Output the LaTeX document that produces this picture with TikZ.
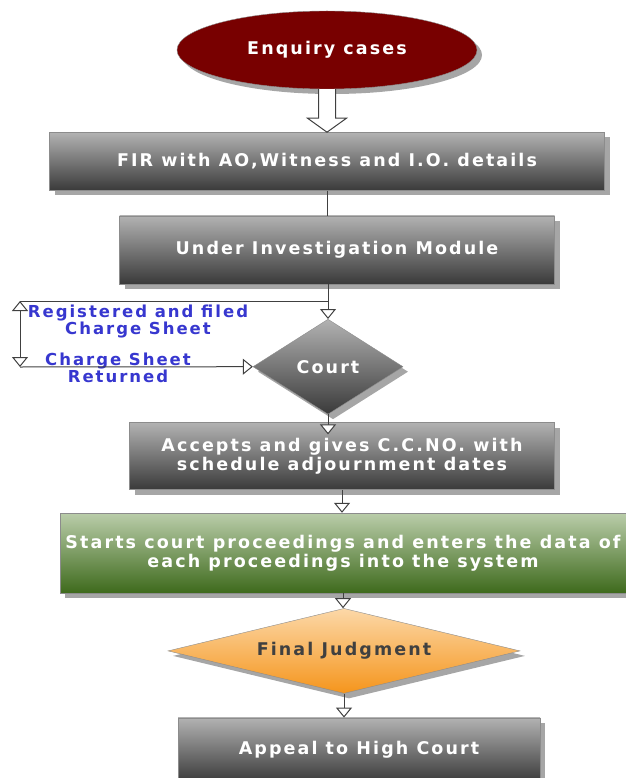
\documentclass[tikz,border=0pt]{standalone}
\usepackage{fontspec}
\setmainfont{DejaVu Sans}[LetterSpace=12]
\usetikzlibrary{arrows.meta,shapes.geometric,positioning,shadows}

\definecolor{boxtop}{HTML}{B2B2B2}
\definecolor{boxbottom}{HTML}{3A3A3A}
\definecolor{enqred}{HTML}{780000}
\definecolor{greentop}{HTML}{BACDAA}
\definecolor{greenbottom}{HTML}{3E6A1C}
\definecolor{orangetop}{HTML}{FCD8A8}
\definecolor{orangebottom}{HTML}{F5951C}
\definecolor{labelblue}{HTML}{3737CF}
\definecolor{linegray}{HTML}{404040}

\tikzset{
  boxshadow/.style={drop shadow={shadow xshift=5pt,shadow yshift=-5pt,fill=gray!70,opacity=1}},
  boxfont/.style={font=\bfseries\fontsize{17.5}{19}\selectfont},
  module/.style={rectangle,draw=gray!90,thin,top color=boxtop,bottom color=boxbottom,
    text=white,boxfont,align=center,inner sep=0pt,boxshadow},
  greenmodule/.style={module,top color=greentop,bottom color=greenbottom},
  decision/.style={diamond,draw=gray!90,thin,top color=boxtop,bottom color=boxbottom,
    text=white,boxfont,inner sep=0pt,boxshadow},
  judgment/.style={decision,top color=orangetop,bottom color=orangebottom,text=linegray,aspect=4},
  start/.style={ellipse,draw=gray!90,thin,fill=enqred,text=white,boxfont,boxshadow},
  flowlabel/.style={text=labelblue,font=\bfseries\fontsize{16.5}{17}\selectfont,align=center},
  link/.style={draw=linegray,line width=1pt},
  harrow/.style={link,-{Triangle[open,fill=white,length=10pt,width=16pt]}},
  dharrow/.style={link,{Triangle[open,fill=white,length=10pt,width=16pt]}-{Triangle[open,fill=white,length=10pt,width=16pt]}}
}

\begin{document}
\begin{tikzpicture}[x=1pt,y=-1pt]
  \useasboundingbox (0,0) rectangle (625,778);

  \node[start, minimum width=300pt, minimum height=78pt] (enq) at (327,50) {Enquiry cases};
  \node[module, minimum width=555pt, minimum height=58pt] (fir)      [below=43pt of enq] {FIR with AO,Witness and I.O. details};
  \node[module, minimum width=435pt, minimum height=68pt] (uim)      [below=25pt of fir, xshift=10pt] {Under Investigation Module};
  \node[decision, minimum width=150pt, minimum height=95pt] (court)  [below=35pt of uim, xshift=-9pt] {Court};
  \node[module, minimum width=425pt, minimum height=67pt] (accepts)  [below=8pt of court, xshift=14pt] {Accepts and gives C.C.NO. with\\schedule adjournment dates};
  \node[greenmodule, minimum width=566pt, minimum height=80pt] (starts) [below=23pt of accepts, xshift=1pt] {Starts court proceedings and enters the data of\\each proceedings into the system};
  \node[judgment, minimum width=352pt, minimum height=85pt] (fj)     [below=15pt of starts, xshift=1pt] {Final Judgment};
  \node[module, minimum width=362pt, minimum height=64pt] (appeal)   [below=24pt of fj, xshift=15pt] {Appeal to High Court};

  \node[flowlabel] (registered) at (138,322) {Registered and filed\\Charge Sheet};
  \node[flowlabel] (returned)   at (118,368) {Charge Sheet\\Returned};

  \coordinate (split) at (court.north |- 0,301);
  \coordinate (corner top) at (20,301);
  \coordinate (corner bottom) at (20,367);

  % hollow arrow under the start ellipse
  \draw[link, fill=white] ([xshift=-8.5pt]enq.south) -- ([xshift=-8.5pt,yshift=14pt]fir.north)
    -- ([xshift=-19.5pt,yshift=14pt]fir.north) -- (fir.north)
    -- ([xshift=19.5pt,yshift=14pt]fir.north) -- ([xshift=8.5pt,yshift=14pt]fir.north)
    -- ([xshift=8.5pt]enq.south);

  \draw[link]   (fir.south) -- (fir.south |- uim.north);
  \draw[link]   (uim.south -| split) -- (split);
  \draw[harrow] (split) -- (court.north);
  \draw[link]   (split) -- (corner top);
  \draw[dharrow] (corner top) -- (corner bottom);
  \draw[harrow] (corner bottom) -- (court.west);
  \draw[harrow] (court.south) -- ([yshift=-12pt]court.south |- accepts.north);
  \draw[harrow] (accepts.south) -- (accepts.south |- starts.north);
  \draw[harrow] (starts.south) -- (starts.south |- fj.north);
  \draw[harrow] (fj.south) -- (fj.south |- appeal.north);
\end{tikzpicture}
\end{document}
